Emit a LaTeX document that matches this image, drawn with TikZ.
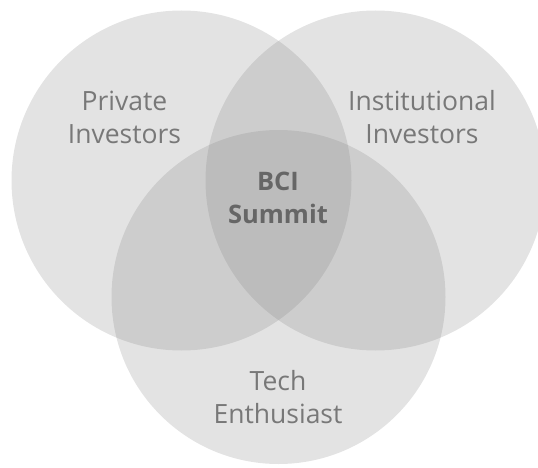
\documentclass[tikz,border=0pt]{standalone}
\usepackage{fontspec}
\setmainfont{Open Sans}
\definecolor{labgray}{HTML}{787878}
\definecolor{midgray}{HTML}{666666}
\begin{document}
\begin{tikzpicture}[x=1pt,y=-1pt,
  venn/.style={circle, fill=gray, fill opacity=0.22, draw=none, inner sep=0pt, minimum size=340pt},
  lab/.style={font=\fontsize{26.5}{33}\selectfont, text=labgray, align=center, inner sep=0pt},
  core/.style={font=\fontsize{25.5}{33}\selectfont\bfseries, text=midgray, align=center, inner sep=0pt}]
\useasboundingbox (0,0) rectangle (538,468);
\node[venn] (A) at (181.5,180.5) {};
\node[venn] (B) at (375.5,180.5) {};
\node[venn, minimum size=334pt] (C) at (278.5,297) {};
\node[lab] (pi) at (124.5,117) {Private\\Investors};
\node[lab] (ii) at (422,117) {Institutional\\Investors};
\node[core] (bci) at (278,198) {BCI\\Summit};
\node[lab] (te) at (278,397) {Tech\\Enthusiast};
\end{tikzpicture}
\end{document}
